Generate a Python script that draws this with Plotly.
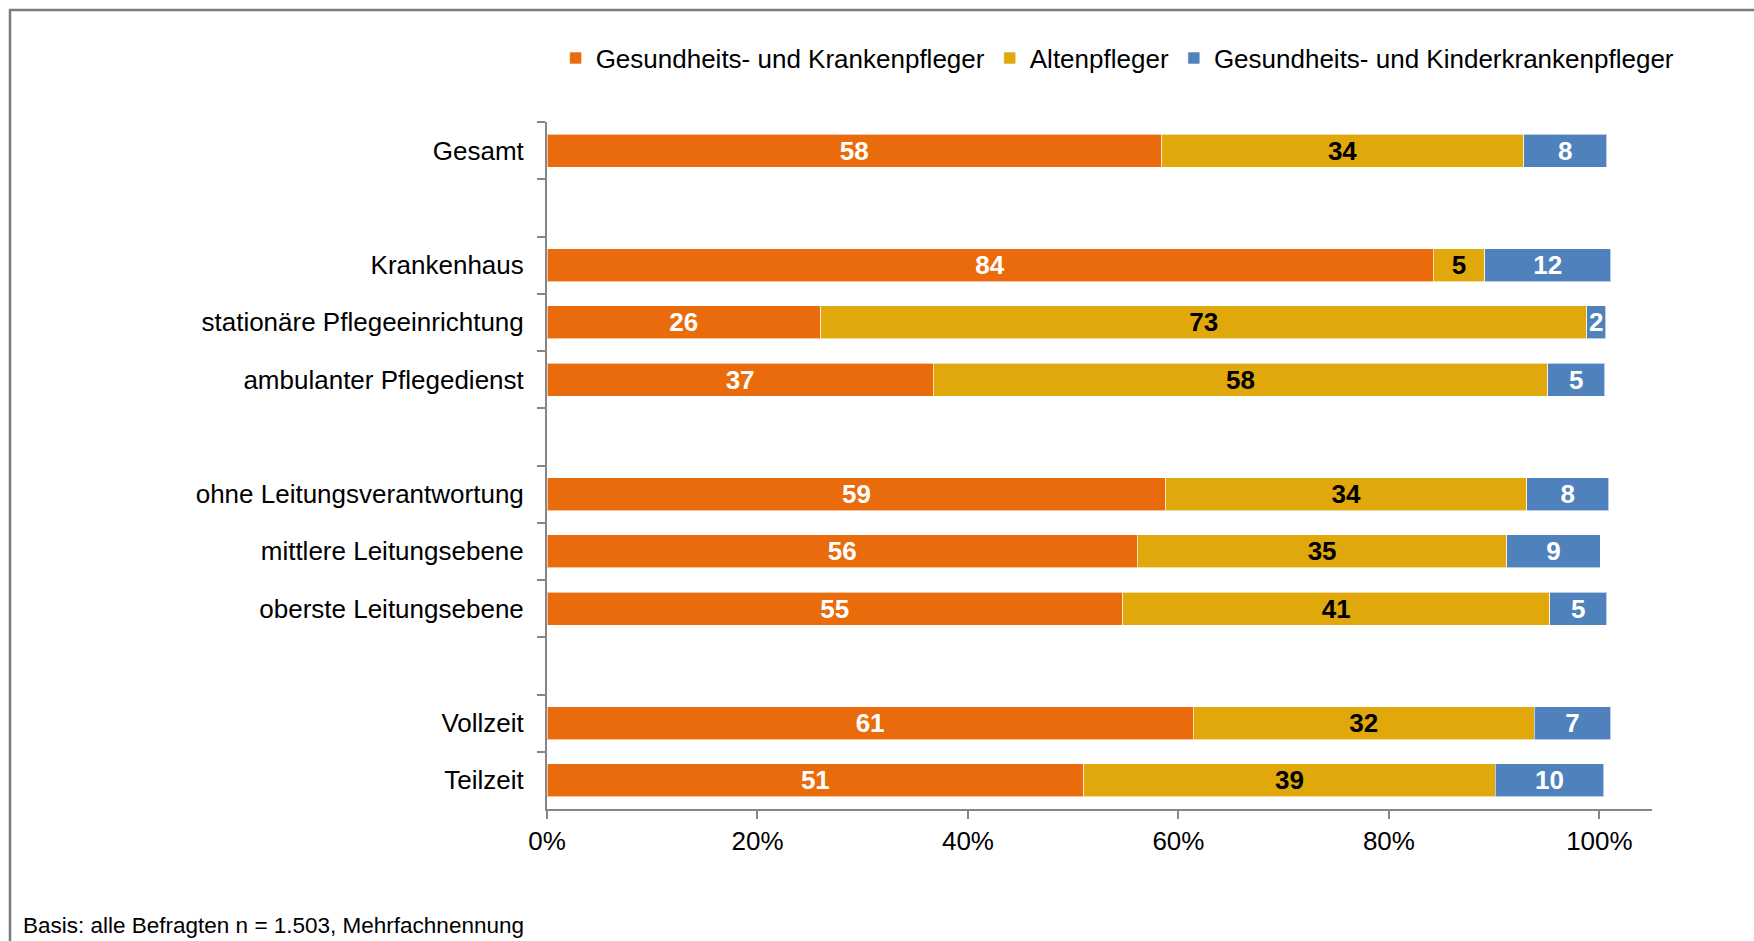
import plotly.graph_objects as go

# rows top to bottom, blank strings are the spacer rows between groups
categories = [
    "Gesamt", " ",
    "Krankenhaus", "stationäre Pflegeeinrichtung", "ambulanter Pflegedienst", "  ",
    "ohne Leitungsverantwortung", "mittlere Leitungsebene", "oberste Leitungsebene", "   ",
    "Vollzeit", "Teilzeit",
]
krankenpfleger = [58.4, None, 84.2, 26.0, 36.7, None, 58.8, 56.1, 54.7, None, 61.4, 51.0]
altenpfleger = [34.4, None, 4.9, 72.8, 58.4, None, 34.3, 35.1, 40.6, None, 32.4, 39.1]
kinderkrankenpfleger = [7.9, None, 12.0, 1.8, 5.4, None, 7.8, 8.9, 5.4, None, 7.3, 10.3]

x_ticks = [0, 20, 40, 60, 80, 100]
x_ticklabels = ["0%", "20%", "40%", "60%", "80%", "100%"]

series = [
    ("Gesundheits- und Krankenpfleger", krankenpfleger, "#E96B0C", "white"),
    ("Altenpfleger", altenpfleger, "#E0A80A", "black"),
    ("Gesundheits- und Kinderkrankenpfleger", kinderkrankenpfleger, "#4F81BD", "white"),
]

FONT = "Liberation Sans, Arial, sans-serif"
GREY = "#868686"

fig = go.Figure()
for name, vals, color, txtcolor in series:
    fig.add_trace(go.Bar(
        x=vals, y=categories, orientation="h", name=name,
        marker=dict(color=color, line=dict(color="rgba(255,255,255,0.6)", width=1)),
        text=["" if v is None else str(round(v)) for v in vals],
        textposition="inside", insidetextanchor="middle", textangle=0,
        textfont=dict(family=FONT, size=26, color=txtcolor, weight=700),
        constraintext="none",
        cliponaxis=False,
    ))

fig.update_layout(
    barmode="stack",
    bargap=0.42,
    width=1754, height=941,
    margin=dict(l=547, r=102, t=122, b=132),
    paper_bgcolor="white",
    plot_bgcolor="white",
    font=dict(family=FONT, size=26, color="black"),
    uniformtext=dict(mode="show", minsize=26),
    legend=dict(
        orientation="h", x=1.025, xanchor="right", y=1.093, yanchor="middle",
        font=dict(size=26), bgcolor="rgba(0,0,0,0)", traceorder="normal",
    ),
    xaxis=dict(
        range=[0, 105], tickvals=x_ticks, ticktext=x_ticklabels,
        showgrid=False, zeroline=False,
        showline=True, linecolor=GREY, linewidth=2,
        ticks="outside", ticklen=8, tickwidth=2, tickcolor=GREY,
        ticklabelstandoff=0,
    ),
    yaxis=dict(
        type="category", autorange="reversed",
        showgrid=False, zeroline=False,
        showline=True, linecolor=GREY, linewidth=2,
        ticks="outside", tickson="boundaries", ticklen=8, tickwidth=2, tickcolor=GREY,
        ticklabelstandoff=16,
    ),
    shapes=[dict(
        type="rect", xref="paper", yref="paper",
        xsizemode="pixel", ysizemode="pixel", xanchor=0, yanchor=1,
        x0=-537, x1=1300, y0=112, y1=-900,
        line=dict(color="#767C84", width=2.5), fillcolor="rgba(0,0,0,0)", layer="below",
    )],
    annotations=[dict(
        text="Basis: alle Befragten n = 1.503, Mehrfachnennung",
        xref="paper", yref="paper", x=-0.4762, y=-0.1697,
        xanchor="left", yanchor="middle", showarrow=False,
        font=dict(size=22.5, color="black"),
    )],
)

fig.write_html("out.html", config={"displayModeBar": False},
               post_script="document.body.style.margin='0';")
